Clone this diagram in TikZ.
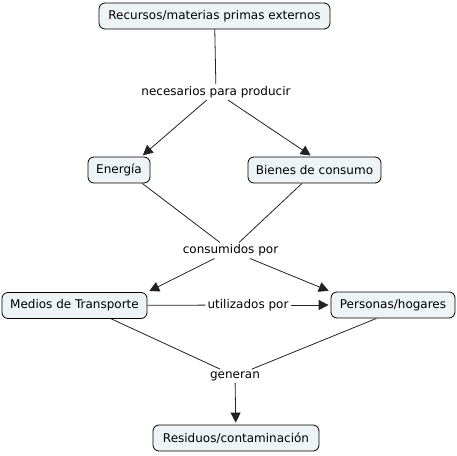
\documentclass[tikz,border=0pt]{standalone}
\usepackage{fontspec}
\setmainfont{DejaVu Sans}
\usetikzlibrary{arrows.meta, positioning}
\definecolor{conceptfill}{HTML}{EEF3F5}
\definecolor{linkgray}{HTML}{222222}

\tikzset{
  concept/.style={draw=black, line width=0.8pt, rounded corners=6pt, fill=conceptfill,
                  minimum height=26pt, inner xsep=6pt, font=\fontsize{12}{14}\selectfont},
  phrase/.style={inner sep=2pt, font=\fontsize{12}{14}\selectfont},
  link/.style={draw=linkgray, line width=0.8pt},
  linkarrow/.style={link, -{Triangle[length=10pt,width=10pt]}, shorten >=2pt}
}

\begin{document}
\begin{tikzpicture}[x=1pt, y=-1pt]
\useasboundingbox (0,0) rectangle (457,455);
% concepts
\node[concept, minimum width=231pt] (recursos) at (214.5,16) {Recursos/materias primas externos};
\node[concept, minimum width=62pt] (energia) at (119,170) {Energía};
\node[concept, minimum width=133pt] (bienes) at (314.5,170) {Bienes de consumo};
\node[concept, minimum width=145pt] (medios) at (74.5,305.5) {Medios de Transporte};
\node[concept, minimum width=124pt] (personas) at (393,305) {Personas/hogares};
\node[concept, minimum width=166pt] (residuos) at (236,438) {Residuos/contaminación};
% linking phrases
\node[phrase] (necesarios) at (216,92) {necesarios para producir};
\node[phrase] (consumidos) at (230.5,250.5) {consumidos por};
\node[phrase] (utilizados) at (248,305) {utilizados por};
\node[phrase] (generan) at (235,376) {generan};
% connectors
\draw[link] (recursos) -- (necesarios);
\draw[linkarrow] (necesarios) -- (energia.31);
\draw[linkarrow] (necesarios) -- (bienes.99);
\draw[link] (energia.-30) -- (consumidos);
\draw[link] (bienes.-133) -- (consumidos);
\draw[linkarrow] (consumidos) -- (medios.north east);
\draw[linkarrow] (consumidos) -- (personas.north west);
\draw[link] (medios) -- (utilizados);
\draw[linkarrow] (utilizados) -- (personas);
\draw[link] (medios.-20) -- (generan);
\draw[link] (personas.-141) -- (generan);
\draw[linkarrow] (generan) -- (residuos);
\end{tikzpicture}
\end{document}
